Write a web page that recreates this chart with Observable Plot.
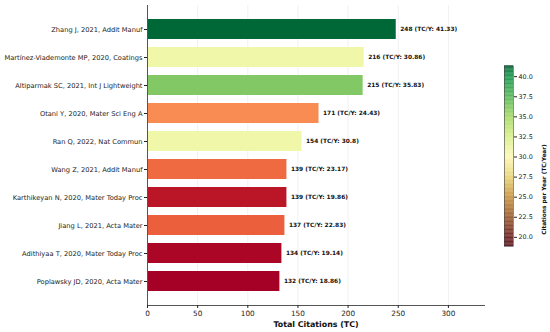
<!DOCTYPE html>
<html>
<head>
<meta charset="utf-8">
<script src="https://cdn.jsdelivr.net/npm/d3@7"></script>
<script src="https://cdn.jsdelivr.net/npm/@observablehq/plot@0.6"></script>
<style>
  html, body { margin: 0; padding: 0; background: #fff; }
  #wrap { position: relative; width: 550px; height: 332px; font-family: "DejaVu Sans", sans-serif; }
  #wrap > svg, #wrap > div { position: absolute; left: 0; top: 0; }
</style>
</head>
<body>
<div id="wrap"></div>
<script>
const papers = [
  "Zhang J, 2021, Addit Manuf",
  "Martínez-Viademonte MP, 2020, Coatings",
  "Altiparmak SC, 2021, Int J Lightweight",
  "Otani Y, 2020, Mater Sci Eng A",
  "Ran Q, 2022, Nat Commun",
  "Wang Z, 2021, Addit Manuf",
  "Karthikeyan N, 2020, Mater Today Proc",
  "Jiang L, 2021, Acta Mater",
  "Adithiyaa T, 2020, Mater Today Proc",
  "Poplawsky JD, 2020, Acta Mater"
];
const totalCitations = [248, 216, 215, 171, 154, 139, 139, 137, 134, 132];
const citationsPerYear = [41.33, 30.86, 35.83, 24.43, 30.8, 23.17, 19.86, 22.83, 19.14, 18.86];
const xTicks = [0, 50, 100, 150, 200, 250, 300];
const cbTicks = [20.0, 22.5, 25.0, 27.5, 30.0, 32.5, 35.0, 37.5, 40.0];

const data = papers.map((p, i) => ({paper: p, tc: totalCitations[i], tcy: citationsPerYear[i]}));
const cMin = d3.min(citationsPerYear), cMax = d3.max(citationsPerYear);

const main = Plot.plot({
  width: 550,
  height: 332,
  marginLeft: 147,
  marginRight: 66,
  marginTop: 5,
  marginBottom: 27,
  style: {fontFamily: "DejaVu Sans, sans-serif", fontSize: "6.7px", color: "#222", background: "transparent"},
  x: {domain: [0, 336], ticks: xTicks, label: null, tickSize: 3},
  y: {domain: papers, label: null, paddingInner: 0.3, paddingOuter: 0.5, tickSize: 3},
  color: {type: "sequential", scheme: "RdYlGn", domain: [cMin, cMax]},
  marks: [
    Plot.gridX(xTicks, {stroke: "#000", strokeOpacity: 0.08, strokeWidth: 0.8}),
    Plot.barX(data, {x: "tc", y: "paper", fill: "tcy"}),
    Plot.text(data, {x: "tc", y: "paper", text: d => `${d.tc} (TC/Y: ${d.tcy})`, dx: 4, textAnchor: "start", fontWeight: "bold", fontSize: 5.9, fill: "#111"}),
    Plot.ruleX([0], {stroke: "#555", strokeWidth: 1}),
    Plot.frame({anchor: "bottom", stroke: "#555", strokeWidth: 1}),
    Plot.axisX({ticks: xTicks, tickSize: 3, label: null, fontSize: 7.3, tickPadding: 2}),
    Plot.axisY({tickSize: 3, label: null, fontSize: 6.7, tickPadding: 2}),
    Plot.text(["Total Citations (TC)"], {frameAnchor: "bottom", dy: 21, fontWeight: "bold", fontSize: 7.9, fill: "#111"})
  ]
});

// colorbar
const cbColors = ["#5c1a20", "#6e2424", "#9a5c30", "#c89544", "#e8d57a", "#fcf8b8", "#d9ef8b", "#a6d96a", "#5cb85c", "#1a9850", "#0b6a38"];
const cbStops = [18.86, 20, 22.5, 25, 27.5, 30, 32.5, 35, 37.5, 40, 41.33];
const cbSteps = d3.range(0, 225).map(i => {
  const y1 = cMin + (cMax - cMin) * i / 225;
  const y2 = cMin + (cMax - cMin) * (i + 1) / 225;
  return {y1, y2: y2 + 0.02, v: (y1 + y2) / 2};
});
const cbar = Plot.plot({
  width: 550,
  height: 332,
  marginLeft: 504,
  marginRight: 37,
  marginTop: 65.5,
  marginBottom: 86,
  style: {fontFamily: "DejaVu Sans, sans-serif", fontSize: "6.4px", color: "#222", background: "transparent"},
  x: {domain: [0, 1], axis: null},
  y: {domain: [cMin, cMax], axis: null},
  color: {type: "linear", domain: cbStops, range: cbColors},
  marks: [
    Plot.rect(cbSteps, {x1: 0, x2: 1, y1: "y1", y2: "y2", fill: "v"}),
    Plot.frame({stroke: "#444", strokeWidth: 0.6}),
    Plot.axisY({anchor: "right", ticks: cbTicks, tickFormat: d => d.toFixed(1), tickSize: 3, tickPadding: 2, fontSize: 6.4, label: null}),
    Plot.text(["Citations per Year (TC/Year)"], {frameAnchor: "right", dx: 31, dy: -12, rotate: -90, fontWeight: "bold", fontSize: 5.8, fill: "#111"})
  ]
});

const wrap = document.getElementById("wrap");
wrap.appendChild(main);
wrap.appendChild(cbar);
</script>
</body>
</html>
